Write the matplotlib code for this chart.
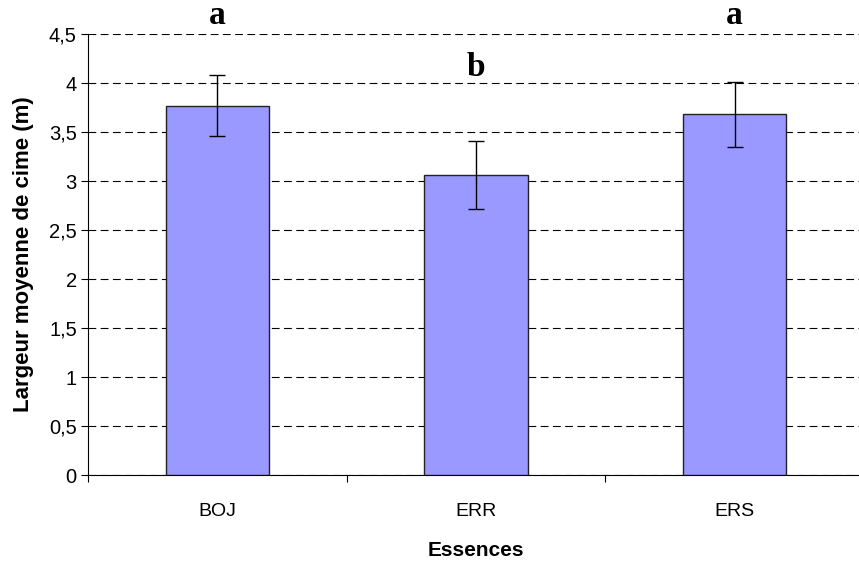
import matplotlib.pyplot as plt
from matplotlib.ticker import FuncFormatter, MultipleLocator

# largeur moyenne de cime par essence
essences = ['BOJ', 'ERR', 'ERS']
largeur = [3.77, 3.06, 3.68]
erreur = [0.31, 0.35, 0.33]
lettres = ['a', 'b', 'a']
y_lettres = [4.60, 4.07, 4.60]

plt.rcParams['font.family'] = ['Liberation Sans', 'DejaVu Sans']

fig = plt.figure(figsize=(8.59, 5.62), dpi=100)
ax = fig.add_axes([0.1024, 0.1548, 0.9034, 0.7847])

x = range(len(essences))
ax.bar(x, largeur, width=0.4, color='#9999ff', edgecolor='#222222', linewidth=1.0, zorder=3)
ax.errorbar(x, largeur, yerr=erreur, fmt='none', ecolor='black', elinewidth=1.0,
            capsize=6, capthick=1.0, zorder=4)

# lettres des groupes homogènes
for xi, let, yl in zip(x, lettres, y_lettres):
    ax.text(xi, yl, let, ha='center', va='baseline', fontsize=24, fontweight='bold',
            family='Liberation Serif', clip_on=False)

ax.set_xlim(-0.5, 2.5)
ax.set_ylim(0, 4.5)
ax.yaxis.set_major_locator(MultipleLocator(0.5))
ax.yaxis.set_major_formatter(FuncFormatter(lambda v, p: ('%g' % v).replace('.', ',')))
ax.grid(axis='y', color='black', linestyle=(0, (7, 4)), linewidth=0.8, zorder=0)

ax.set_xticks(list(x))
ax.set_xticklabels(essences)
ax.set_xticks([-0.5, 0.5, 1.5, 2.5], minor=True)
ax.tick_params(axis='x', which='major', length=0, pad=20, labelsize=14)
ax.tick_params(axis='x', which='minor', length=5, direction='out', width=0.8)
ax.tick_params(axis='y', length=5, direction='out', width=0.8, labelsize=14.5, pad=3)

for s in ['top', 'right']:
    ax.spines[s].set_visible(False)
ax.spines['left'].set_linewidth(0.8)
ax.spines['bottom'].set_linewidth(0.8)

ax.set_xlabel('Essences', fontsize=15, fontweight='bold')
ax.set_ylabel('Largeur moyenne de cime (m)', fontsize=16, fontweight='bold')
ax.xaxis.set_label_coords(0.5, -0.15)
ax.yaxis.set_label_coords(-0.070, 0.5)

fig.savefig('out.png', dpi=100)
